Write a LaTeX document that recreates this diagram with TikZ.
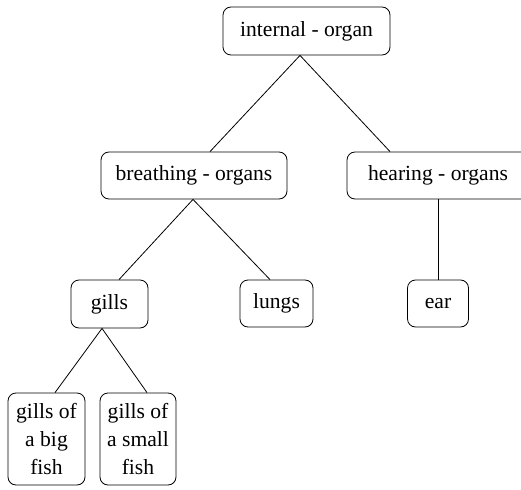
\documentclass[tikz,border=0pt]{standalone}
\usepackage{fontspec}
\setmainfont{Liberation Serif}
\begin{document}
\begin{tikzpicture}[x=1pt,y=-1pt,
  box/.style={draw, line width=0.8pt, rounded corners=8pt, inner sep=0pt,
    align=center, font=\fontsize{21.6}{28}\selectfont},
  link/.style={line width=0.8pt}]
\useasboundingbox (0,0) rectangle (521,489);
\clip (0,0) rectangle (521,489);
\node[box, minimum width=167pt, minimum height=48pt] (internal) at (306.5,31) {internal - organ};
\node[box, minimum width=186pt, minimum height=47pt] (breathing) at (194,175.5) {breathing - organs};
\node[box, minimum width=182pt, minimum height=47pt] (hearing) at (438,175.5) {hearing - organs};
\node[box, minimum width=77pt, minimum height=48pt] (gills) at (109.5,304) {gills};
\node[box, minimum width=73pt, minimum height=47pt] (lungs) at (276.5,303.5) {lungs};
\node[box, minimum width=61pt, minimum height=47pt] (ear) at (438,303.5) {ear};
\node[box, minimum width=77pt, minimum height=92pt] (bigfish) at (46.5,439) {gills of\\a big\\fish};
\node[box, minimum width=76pt, minimum height=92pt] (smallfish) at (138,439) {gills of\\a small\\fish};
\draw[link] ([xshift=16pt]breathing.north) -- ([xshift=-6.5pt]internal.south) -- ([xshift=-48pt]hearing.north);
\draw[link] ([xshift=9.5pt]gills.north) -- ([xshift=-1pt]breathing.south) -- ([xshift=-6.5pt]lungs.north);
\draw[link] ([xshift=8.5pt]bigfish.north) -- ([xshift=-7.5pt]gills.south) -- ([xshift=9pt]smallfish.north);
\draw[link] (hearing.south) -- (ear.north);
\end{tikzpicture}
\end{document}
